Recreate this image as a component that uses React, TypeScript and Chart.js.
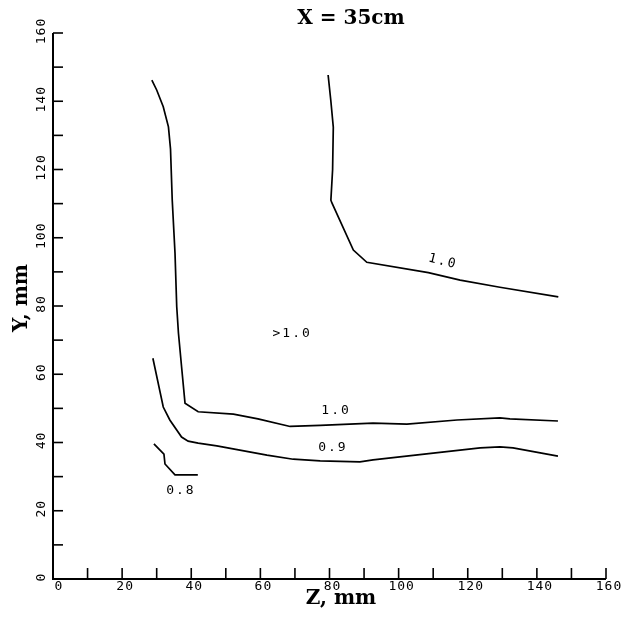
import React, { useEffect, useRef } from "react";
import { Chart, registerables } from "chart.js";

Chart.register(...registerables);

// Axis tick labels (mm)
const zTickLabels = ["0", "20", "40", "60", "80", "100", "120", "140", "160"];
const yTickLabels = ["0", "20", "40", "60", "80", "100", "120", "140", "160"];

// Contour 1.0, lower-left boundary of the >1.0 region
const c10LowerZ = [28.6, 30.0, 31.9, 33.4, 34.0, 34.5, 35.3, 35.8, 36.3, 37.2, 38.2, 42.0, 52.2, 59.3, 68.6, 77.3, 92.6, 102.4, 116.9, 129.3, 132.2, 146.1];
const c10LowerY = [146.2, 143.3, 138.4, 132.5, 126.0, 111.0, 95.5, 79.8, 72.0, 62.2, 51.5, 49.0, 48.3, 46.9, 44.7, 45.0, 45.7, 45.4, 46.6, 47.2, 46.9, 46.3];

// Contour 1.0, upper-right boundary
const c10UpperZ = [79.6, 80.4, 81.1, 80.9, 80.4, 80.7, 86.9, 90.8, 108.6, 117.8, 129.3, 146.2];
const c10UpperY = [147.7, 140.0, 132.4, 120.0, 111.0, 110.2, 96.4, 92.8, 89.8, 87.6, 85.5, 82.7];

// Contour 0.9
const c09Z = [28.9, 31.9, 33.8, 37.2, 39.1, 42.0, 47.4, 61.9, 69.5, 77.3, 88.8, 92.6, 110.0, 123.6, 129.3, 133.1, 146.1];
const c09Y = [64.7, 50.4, 46.6, 41.6, 40.4, 39.8, 39.0, 36.3, 35.1, 34.6, 34.3, 34.9, 36.9, 38.4, 38.7, 38.4, 36.0];

// Contour 0.8
const c08Z = [29.2, 32.1, 32.4, 35.3, 41.9];
const c08Y = [39.6, 36.6, 33.7, 30.5, 30.5];

// Contour annotations: text, anchor (Z, Y) in mm, rotation in degrees
const labelTexts = ["1.0", ">1.0", "1.0", "0.9", "0.8"];
const labelZ = [112.8, 69.2, 81.9, 81.0, 37.0];
const labelY = [93.0, 72.0, 49.4, 38.6, 26.0];
const labelAngle = [14, 0, 0, 0, 0];

const toPoints = (zs: number[], ys: number[]) => zs.map((z, i) => ({ x: z, y: ys[i] }));

const plotterPlugin = {
  id: "plotterAxes",
  afterDraw(chart: any) {
    const { ctx } = chart;
    const xs = chart.scales.x;
    const ys = chart.scales.y;
    const x0 = xs.getPixelForValue(0);
    const x1 = xs.getPixelForValue(160);
    const y0 = ys.getPixelForValue(0);
    const y1 = ys.getPixelForValue(160);
    ctx.save();
    ctx.strokeStyle = "#000";
    ctx.fillStyle = "#000";
    ctx.lineWidth = 2;
    ctx.lineCap = "butt";

    // axis lines
    ctx.beginPath();
    ctx.moveTo(x0, y1);
    ctx.lineTo(x0, y0);
    ctx.lineTo(x1, y0);
    ctx.stroke();

    // inward tick marks every 10 mm
    ctx.lineWidth = 1.6;
    xs.ticks.forEach((t: any) => {
      const px = xs.getPixelForValue(t.value);
      ctx.beginPath();
      ctx.moveTo(px, y0);
      ctx.lineTo(px, y0 - 11);
      ctx.stroke();
    });
    ys.ticks.forEach((t: any) => {
      const py = ys.getPixelForValue(t.value);
      ctx.beginPath();
      ctx.moveTo(x0, py);
      ctx.lineTo(x0 + 10, py);
      ctx.stroke();
    });

    // tick labels
    ctx.font = "13px 'DejaVu Sans Mono'";
    (ctx as any).letterSpacing = "1px";
    ctx.textAlign = "center";
    ctx.textBaseline = "middle";
    zTickLabels.forEach((lab) => {
      const px = xs.getPixelForValue(Number(lab));
      ctx.fillText(lab, px + (lab === "0" ? 6 : 3), y0 + 8);
    });
    yTickLabels.forEach((lab) => {
      const py = ys.getPixelForValue(Number(lab));
      ctx.save();
      ctx.translate(x0 - 11, py - 2);
      ctx.rotate(-Math.PI / 2);
      ctx.fillText(lab, 0, 0);
      ctx.restore();
    });

    // contour annotations
    ctx.font = "13px 'DejaVu Sans Mono'";
    (ctx as any).letterSpacing = "2px";
    labelTexts.forEach((txt, i) => {
      const px = xs.getPixelForValue(labelZ[i]);
      const py = ys.getPixelForValue(labelY[i]);
      ctx.save();
      ctx.translate(px, py);
      ctx.rotate((labelAngle[i] * Math.PI) / 180);
      ctx.fillText(txt, 0, 0);
      ctx.restore();
    });
    (ctx as any).letterSpacing = "0px";

    // titles
    ctx.font = "bold 20px 'DejaVu Serif'";
    ctx.fillText("X = 35cm", 351, 19);
    ctx.font = "bold 20px 'DejaVu Serif'";
    ctx.fillText("Z, mm", 341, 599);
    ctx.save();
    ctx.translate(22, 298);
    ctx.rotate(-Math.PI / 2);
    ctx.fillText("Y, mm", 0, 0);
    ctx.restore();

    ctx.restore();
  },
};

export default function App() {
  const canvasRef = useRef<HTMLCanvasElement | null>(null);

  useEffect(() => {
    document.body.style.margin = "0";
    const canvas = canvasRef.current;
    if (!canvas) return;
    const lineStyle = {
      showLine: true,
      borderColor: "#000",
      backgroundColor: "#000",
      borderWidth: 1.7,
      pointRadius: 0,
      tension: 0,
      fill: false,
    };
    const chart = new Chart(canvas, {
      type: "scatter",
      data: {
        datasets: [
          { label: "1.0 lower", data: toPoints(c10LowerZ, c10LowerY), ...lineStyle },
          { label: "1.0 upper", data: toPoints(c10UpperZ, c10UpperY), ...lineStyle },
          { label: "0.9", data: toPoints(c09Z, c09Y), ...lineStyle },
          { label: "0.8", data: toPoints(c08Z, c08Y), ...lineStyle },
        ],
      },
      options: {
        responsive: false,
        animation: false,
        layout: { padding: { top: 33, right: 29, left: 0, bottom: 0 } },
        plugins: {
          legend: { display: false },
          tooltip: { enabled: false },
          title: { display: false },
        },
        scales: {
          x: {
            type: "linear",
            min: 0,
            max: 160,
            ticks: { display: false, stepSize: 10 },
            grid: { display: false },
            border: { display: false },
            afterFit: (s: any) => {
              s.height = 39;
            },
          },
          y: {
            type: "linear",
            min: 0,
            max: 160,
            ticks: { display: false, stepSize: 10 },
            grid: { display: false },
            border: { display: false },
            afterFit: (s: any) => {
              s.width = 53;
            },
          },
        },
      },
      plugins: [plotterPlugin],
    });
    return () => chart.destroy();
  }, []);

  return (
    <div style={{ width: 635, height: 618, background: "#fff" }}>
      <canvas ref={canvasRef} width={635} height={618} />
    </div>
  );
}
